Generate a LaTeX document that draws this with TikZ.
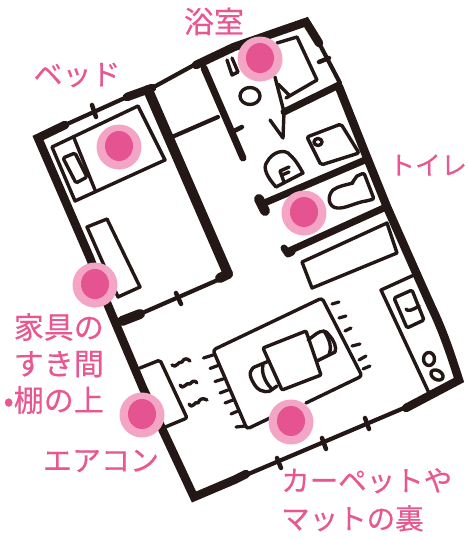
\documentclass[tikz,border=0pt]{standalone}
\usepackage{fontspec}
\newfontfamily\cjk[FakeBold=0.35]{Noto Sans CJK JP}
\definecolor{ink}{HTML}{231815}
\definecolor{pinkout}{HTML}{F4A5C5}
\definecolor{pinkin}{HTML}{E55390}
\definecolor{labelc}{HTML}{E85790}
\tikzset{
  wallthick/.style={draw=ink,line width=10pt,line cap=round,line join=round},
  walledge/.style={draw=ink,line width=8.5pt,line cap=round,line join=miter},
  wallmid/.style={draw=ink,line width=7pt,line cap=round,line join=round},
  wallthin/.style={draw=ink,line width=4.2pt,line cap=round,line join=round},
  furn/.style={draw=ink,line width=3.4pt,line cap=round,line join=round},
  fringe/.style={draw=ink,line width=3.2pt,line cap=round},
  tick/.style={draw=ink,line width=4.5pt,line cap=round},
  spotout/.style={fill=pinkout,draw=none},
  spotin/.style={fill=pinkin,draw=none},
  lab/.style={text=labelc,font=\cjk\fontsize{#1}{#1}\selectfont,inner sep=0pt},
  lab/.default=28
}
\begin{document}
\begin{tikzpicture}[x=1pt,y=-1pt]
\useasboundingbox (0,0) rectangle (468,538);
% outer walls
\draw[walledge] (65,125) -- (38,138) -- (90,258) -- (107,303) -- (143,388) -- (194,497) -- (234,480) -- (246,474);
\draw[wallthin] (246,475) -- (404,408);
\draw[tick] (277,458) -- (281,468);
\draw[tick] (322,438) -- (326,449);
\draw[tick] (365,418) -- (369,429);
\draw[walledge] (406,408) -- (459,380) .. controls (453,362) and (445,335) .. (431,306) -- (414,268) -- (387,207) -- (364,150) -- (339,87);
\draw[wallthin] (340,83) -- (319,43);
\draw[tick] (319,62) -- (329,58);
\draw[walledge] (319,43) -- (306,22) -- (234,47) -- (196,65);
\draw[wallthin] (194,65) -- (152,88);
\draw[walledge] (152,88) -- (127,97);
\draw[wallthin] (127,97) -- (65,125);
\draw[tick] (92,105) -- (96,117);
% inner walls
\draw[wallthick] (148,90) -- (228,274);
\draw[wallthick] (228,274) -- (220,278);
\draw[wallthin] (220,279) -- (140,314);
\draw[tick] (176,293) -- (181,304);
\draw[wallthick] (140,314) -- (122,321);
\draw[wallthin] (172,137) -- (218,117);
\draw[wallmid] (204,68) -- (243,158);
\draw[tick] (234,131) -- (242,127);
% bath walls
\draw[wallmid] (339,85) -- (284,112);
\draw[furn] (275,77) -- (284,112) -- (283,138) -- (270,120);
\draw[wallmid] (262,204) -- (365,160);
\draw[wallthick] (259,199) -- (265,211);
\draw[wallmid] (289,251) -- (386,207);
\draw[wallmid] (284,248) -- (288,254) -- (292,252);
% bathtub
\draw[furn] (286,98) -- (317,80) -- (297,37) -- (277,43);
\draw[furn] (278,84) -- (289,95);
\draw[furn] (227,60) -- (232,75) -- (238,72) -- (232,58);
\draw[furn] (250,96) ellipse (10 and 8.5);
% sink
\draw[furn,rounded corners=2pt] (307,137) -- (341,124) -- (359,153) -- (321,165) -- cycle;
\draw[furn] (318,142) ellipse (4 and 3.5);
% washing / bidet shape
\draw[furn] (276,187) .. controls (268,178) and (262,168) .. (267,162) .. controls (272,152) and (285,148) .. (290,155) .. controls (296,160) and (300,168) .. (303,173) -- (276,187);
\draw[furn] (289,167) -- (280,171) -- (284,182);
\draw[furn] (282,175) -- (289,172);
% toilet
\draw[furn,rounded corners=2pt] (357,176) -- (364,173) -- (374,199) -- (366,201);
\draw[furn] (366,201) .. controls (357,202) and (345,209) .. (337,208) .. controls (328,207) and (327,196) .. (333,190) .. controls (338,186) and (346,185) .. (353,183);
\draw[furn] (352,183) -- (357,176);
% closet
\draw[furn] (302,262) -- (387,223) -- (397,253) -- (312,288) -- cycle;
% kitchen
\draw[furn] (414,275) -- (381,290) -- (429,393);
\draw[furn] (429,393) -- (459,380);
\draw[furn,rounded corners=1.5pt] (394,298) -- (412,290) -- (424,320) -- (407,328) -- cycle;
\draw[furn] (419,306) .. controls (413,310) and (407,312) .. (406,309);
\draw[furn] (429,359) ellipse (5.5 and 6.5);
\draw[furn,rotate around={-30:(437,375)}] (437,375) ellipse (6.5 and 4.5);
% rug
\draw[furn,rounded corners=3pt] (306,403) -- (362,376) -- (322,298) -- (213,350) -- (247,429) -- (270,418);
\foreach \a/\b/\c/\d in {203.5/358/213/355, 210/368.5/218/365.5, 215/381.5/223/379, 220/393/228/390, 225/403/233/400, 231/414/238/411, 236/427/246/426}
  \draw[fringe] (\a,\b) -- (\c,\d);
\foreach \a/\b/\c/\d in {332/304/339/302, 339/318/346/316, 345/331/351/328, 352/346/360/344, 359/360/366/356, 363/369/370/366}
  \draw[fringe] (\a,\b) -- (\c,\d);
% table and chairs
\draw[furn,rounded corners=1pt] (263,348) -- (306,331) -- (321,375) -- (282,390) -- cycle;
\draw[furn] (308,340) -- (316,334) .. controls (322,330) and (326,330) .. (329,335) .. controls (334,340) and (337,348) .. (335,352) -- (317,361);
\draw[furn] (324,331) .. controls (330,340) and (332,348) .. (329,355);
\draw[furn] (269,361) -- (257,366) .. controls (250,368) and (248,374) .. (253,382) .. controls (257,390) and (263,393) .. (270,391) -- (277,386);
\draw[furn] (263,365) .. controls (261,372) and (265,382) .. (271,388);
% air conditioner
\draw[furn,rounded corners=2pt] (140,368) -- (160,360) -- (187,418) -- (163,428);
\draw[furn] (172,365) .. controls (176,369) and (178,361) .. (182,362) .. controls (184,358) and (187,358) .. (190,361);
\draw[furn] (180,385) .. controls (184,391) and (186,381) .. (190,384) .. controls (192,381) and (195,380) .. (197,383);
\draw[furn] (189,404) .. controls (193,410) and (195,400) .. (198,403) .. controls (200,398) and (203,398) .. (207,400);
% bed
\draw[furn] (52,147) -- (138,106) -- (165,160) -- (75,201) -- cycle;
\draw[furn] (74,138) -- (95,190);
\draw[furn,rounded corners=1.5pt] (63,158) -- (75,153) -- (87,177) -- (76,183) -- cycle;
% low furniture
\draw[furn] (87,227) -- (107,219) -- (140,287) -- (118,297) -- cycle;
% spots
\foreach \n/\x/\y in {a/119/147,b/260/59,c/304/213,d/95/285,e/142/415,f/291/422}{
  \fill[spotout] (\x,\y) circle (22.5);
  \fill[spotin] (\x,\y-1) ellipse (14 and 15);
}
% labels
\node[lab=30] (bath) at (214,21.5) {浴室};
\node[lab=29] (bedl) at (77,75) {ベッド};
\node[lab=26] (toil) at (428,165) {トイレ};
\node[lab=30,align=right,anchor=north east,text width=110pt,font=\cjk\fontsize{30}{36.5}\selectfont] (gap) at (104,313) {家具の\\すき間\\•棚の上};
\node[lab=29] (acl) at (101,461) {エアコン};
\node[lab=28.5,anchor=north west,align=left,font=\cjk\fontsize{28.5}{38}\selectfont] (rugl) at (281,468) {カーペットや\\マットの裏};
\end{tikzpicture}
\end{document}
